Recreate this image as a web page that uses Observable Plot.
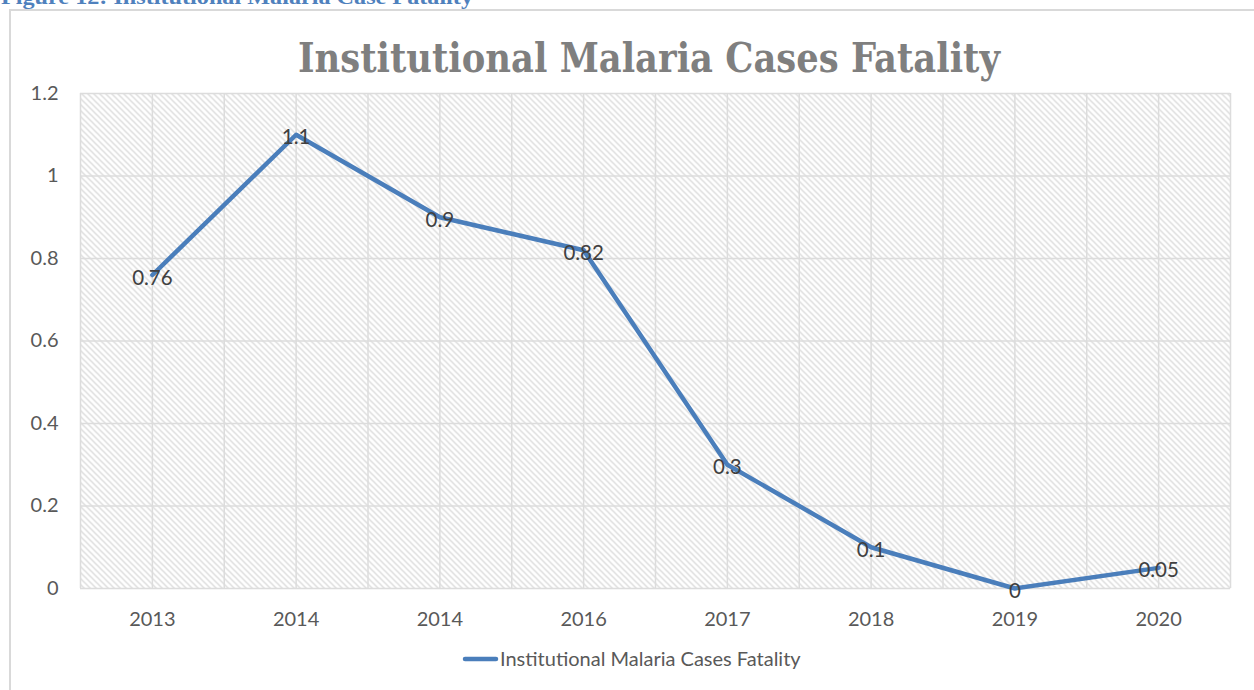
<!DOCTYPE html>
<html>
<head>
<meta charset="utf-8">
<script src="https://cdn.jsdelivr.net/npm/d3@7"></script>
<script src="https://cdn.jsdelivr.net/npm/@observablehq/plot@0.6"></script>
<style>
  html, body { margin: 0; padding: 0; background: #fff; overflow: hidden; }
  #wrap { position: relative; width: 1254px; height: 690px; overflow: hidden; background: #fff; }
  #frame { position: absolute; left: 9px; top: 9px; width: 1400px; height: 900px; border: 2px solid #d9d9d9; box-sizing: border-box; }
  #chart { position: absolute; left: 0; top: 0; }
  #overlay { position: absolute; left: 0; top: 0; pointer-events: none; }
</style>
</head>
<body>
<div id="wrap">
  <div id="frame"></div>
  <div id="chart"></div>
</div>
<script>
// ---- data ----
const years = ["2013", "2014", "2014", "2016", "2017", "2018", "2019", "2020"];
const fatality = [0.76, 1.1, 0.9, 0.82, 0.3, 0.1, 0, 0.05];
const yTicks = [0, 0.2, 0.4, 0.6, 0.8, 1, 1.2];
const yTickLabels = ["0", "0.2", "0.4", "0.6", "0.8", "1", "1.2"];
const seriesName = "Institutional Malaria Cases Fatality";
const chartTitle = "Institutional Malaria Cases Fatality";
const figureCaption = "Figure 12: Institutional Malaria Case Fatality";

const data = years.map((y, i) => ({i, year: y, value: fatality[i]}));
const idx = years.map((_, i) => i);
const vGrid = d3.range(-0.5, years.length, 0.5);

const lineColor = "#4a7ebb";
const textColor = "#595959";
const font = "Lato, 'Open Sans', sans-serif";

const plot = Plot.plot({
  width: 1254,
  height: 690,
  marginLeft: 80,
  marginRight: 24,
  marginTop: 93,
  marginBottom: 102,
  style: {fontFamily: font, fontSize: "20px", color: textColor, background: "transparent", overflow: "visible"},
  x: {type: "linear", domain: [-0.5, years.length - 0.5], ticks: idx, tickFormat: i => years[i], tickSize: 0, tickPadding: 23, label: null},
  y: {domain: [0, 1.2], ticks: yTicks, tickFormat: d => yTickLabels[yTicks.indexOf(d)], tickSize: 0, tickPadding: 22, label: null},
  marks: [
    Plot.frame({fill: "url(#hatch)", stroke: null}),
    Plot.ruleX(vGrid, {stroke: "#dcdcdc", strokeWidth: 1.5}),
    Plot.ruleY(yTicks, {stroke: "#dcdcdc", strokeWidth: 1.5}),
    Plot.line(data, {x: "i", y: "value", stroke: lineColor, strokeWidth: 4.5, strokeLinejoin: "round", strokeLinecap: "round"}),
    Plot.text(data, {x: "i", y: "value", dy: 3, text: d => String(d.value), fill: "#404040", fontSize: 20.5, fontFamily: font})
  ]
});

// hatch pattern
const svg = d3.select(plot);
const defs = svg.insert("defs", ":first-child");
const pat = defs.append("pattern")
  .attr("id", "hatch")
  .attr("patternUnits", "userSpaceOnUse")
  .attr("width", 6).attr("height", 6);
pat.append("rect").attr("width", 6).attr("height", 6).attr("fill", "#ffffff");
pat.append("path")
  .attr("d", "M0,0 L6,6 M-1,5 L1,7 M5,-1 L7,1")
  .attr("stroke", "#d2d2d2").attr("stroke-width", 1.2);

document.getElementById("chart").appendChild(plot);

// overlay: caption, title, legend (real text)
const ov = d3.select("#wrap").append("svg")
  .attr("id", "overlay")
  .attr("width", 1254).attr("height", 690);

ov.append("text")
  .attr("x", 1).attr("y", 4)
  .attr("font-family", "'Liberation Serif', 'Times New Roman', serif")
  .attr("font-weight", "bold")
  .attr("font-size", 21)
  .attr("fill", "#4f81bd")
  .attr("textLength", 472).attr("lengthAdjust", "spacingAndGlyphs")
  .text(figureCaption);

ov.append("text")
  .attr("x", 298).attr("y", 72)
  .attr("font-family", "'DejaVu Serif', serif")
  .attr("font-weight", "bold")
  .attr("font-size", 41)
  .attr("fill", "#7f7f7f")
  .attr("textLength", 702).attr("lengthAdjust", "spacingAndGlyphs")
  .text(chartTitle);

ov.append("line")
  .attr("x1", 465).attr("x2", 496).attr("y1", 659).attr("y2", 659)
  .attr("stroke", lineColor).attr("stroke-width", 4.5).attr("stroke-linecap", "round");
ov.append("text")
  .attr("x", 500).attr("y", 666)
  .attr("font-family", font)
  .attr("font-size", 20)
  .attr("fill", textColor)
  .text(seriesName);
</script>
</body>
</html>
